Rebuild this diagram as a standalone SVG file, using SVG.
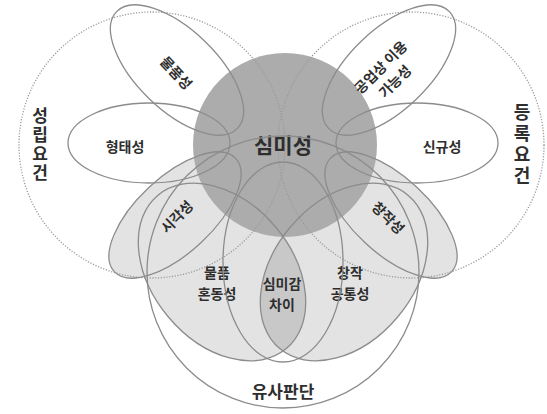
<svg xmlns="http://www.w3.org/2000/svg" width="547" height="414" viewBox="0 0 547 414">
<defs>
<style>
.dot{fill:none;stroke:#9a9a9a;stroke-width:1.3;stroke-dasharray:1.2 1.6}
.ol{fill:none;stroke:#8c8c8c;stroke-width:1.3}
.lg{fill:#e3e3e3}
.t{font-family:"Noto Sans CJK KR","Noto Sans",sans-serif;font-weight:700;fill:#2e2e2e;text-anchor:middle}
.v{font-family:"Noto Sans CJK KR","Noto Sans",sans-serif;font-weight:700;fill:#2e2e2e;writing-mode:vertical-rl;text-orientation:upright}
</style>
<clipPath id="clipL"><ellipse cx="222" cy="272" rx="100" ry="70" transform="rotate(50 222 272)"/></clipPath>
</defs>
<rect width="547" height="414" fill="#ffffff"/>
<g id="fills">
<ellipse class="lg" cx="175" cy="215" rx="83" ry="38" transform="rotate(-43 175 215)"/>
<ellipse class="lg" cx="391" cy="215" rx="83" ry="38" transform="rotate(43 391 215)"/>
<ellipse class="lg" cx="222" cy="272" rx="100" ry="70" transform="rotate(50 222 272)"/>
<ellipse class="lg" cx="344" cy="272" rx="100" ry="70" transform="rotate(-50 344 272)"/>
<g clip-path="url(#clipL)"><ellipse fill="#c8c8c8" cx="344" cy="272" rx="100" ry="70" transform="rotate(-50 344 272)"/></g>
<circle fill="#acacac" cx="285" cy="145" r="92"/>
</g>
<g id="connectors"></g>
<g id="node-seongrip"><circle class="dot" cx="152" cy="145" r="133"/><text class="v" font-size="17" letter-spacing="2" x="40" y="107">성립요건</text></g>
<g id="node-deungrok"><circle class="dot" cx="411" cy="145" r="133"/><text class="v" font-size="18" letter-spacing="3" x="522" y="103">등록요건</text></g>
<g id="node-simmi"><text class="t" font-size="21" x="283" y="153">심미성</text></g>
<g id="node-mulpum"><ellipse class="ol" cx="177" cy="70" rx="84" ry="40" transform="rotate(44 177 70)"/><text class="t" font-size="14" transform="translate(176 73) rotate(47)" y="5">물품성</text></g>
<g id="node-hyeongtae"><ellipse class="ol" cx="149" cy="143" rx="81" ry="40"/><text class="t" font-size="14" x="125" y="152">형태성</text></g>
<g id="node-gongeop"><ellipse class="ol" cx="389" cy="70" rx="84" ry="40" transform="rotate(-44 389 70)"/><text class="t" font-size="14" transform="translate(388 74.5) rotate(-45)"><tspan x="0" y="-5">공업상 이용</tspan><tspan x="0" y="15">가능성</tspan></text></g>
<g id="node-singyu"><ellipse class="ol" cx="417" cy="143" rx="81" ry="40"/><text class="t" font-size="14" x="442" y="152">신규성</text></g>
<g id="node-sigak"><ellipse class="ol" cx="175" cy="215" rx="83" ry="38" transform="rotate(-43 175 215)"/><text class="t" font-size="14" transform="translate(177 217) rotate(-45)" y="5">시각성</text></g>
<g id="node-changjak"><ellipse class="ol" cx="391" cy="215" rx="83" ry="38" transform="rotate(43 391 215)"/><text class="t" font-size="14" transform="translate(388 218) rotate(45)" y="5">창작성</text></g>
<g id="node-honddong"><ellipse class="ol" cx="222" cy="272" rx="100" ry="70" transform="rotate(50 222 272)"/><text class="t" font-size="14"><tspan x="217" y="278">물품</tspan><tspan x="217" y="299">혼동성</tspan></text></g>
<g id="node-gongtong"><ellipse class="ol" cx="344" cy="272" rx="100" ry="70" transform="rotate(-50 344 272)"/><text class="t" font-size="14"><tspan x="350" y="278">창작</tspan><tspan x="350" y="299">공통성</tspan></text></g>
<g id="node-chai"><ellipse class="ol" cx="283" cy="262" rx="60" ry="100"/><text class="t" font-size="14"><tspan x="282" y="289">심미감</tspan><tspan x="282" y="310">차이</tspan></text></g>
<g id="node-yusa"><circle class="ol" cx="283" cy="272" r="136"/><text class="t" font-size="17" x="283" y="398">유사판단</text></g>
</svg>
